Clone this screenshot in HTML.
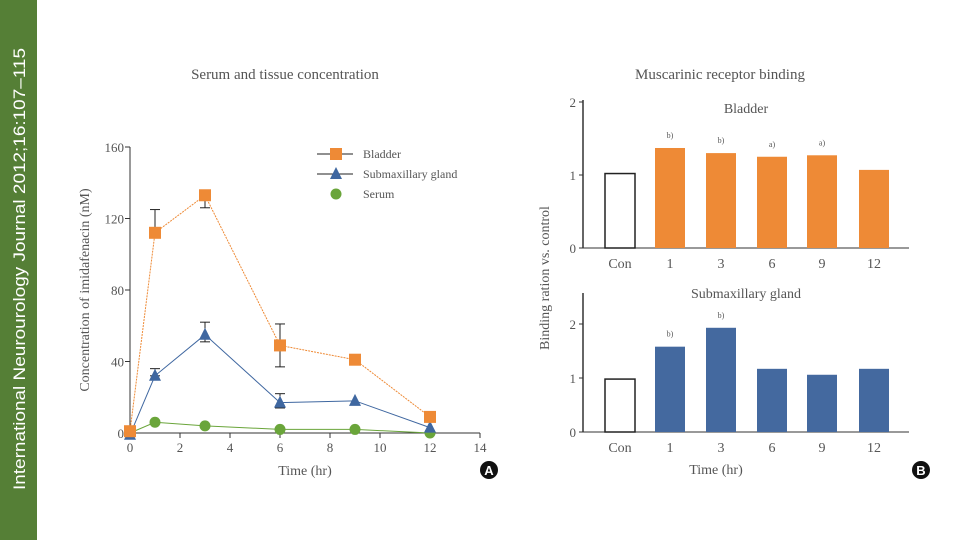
<!DOCTYPE html>
<html><head><meta charset="utf-8"><style>
body{margin:0;width:960px;height:540px;background:#fff;overflow:hidden;font-family:"Liberation Serif",serif}
svg text{font-family:"Liberation Serif",serif;fill:#555}
</style></head><body>
<svg id="s" width="960" height="540" viewBox="0 0 960 540">
<rect x="0" y="0" width="37" height="540" fill="#557f36"/>
<text transform="translate(25,269) rotate(-90)" text-anchor="middle" textLength="442" lengthAdjust="spacingAndGlyphs" style="font-family:'Liberation Sans',sans-serif;fill:#fff;font-size:17px">International Neurourology Journal 2012;16:107–115</text>
<text x="285" y="79" text-anchor="middle" font-size="15">Serum and tissue concentration</text>
<text x="720" y="79" text-anchor="middle" font-size="15">Muscarinic receptor binding</text>
<g id="L"></g>
<g id="R"></g>
<circle cx="489" cy="470" r="9" fill="#111"/>
<text x="489" y="475" text-anchor="middle" style="font-family:'Liberation Sans',sans-serif;fill:#fff;font-size:13px;font-weight:bold">A</text>
<circle cx="921" cy="470" r="9" fill="#111"/>
<text x="921" y="475" text-anchor="middle" style="font-family:'Liberation Sans',sans-serif;fill:#fff;font-size:13px;font-weight:bold">B</text>
</svg>
<script>
const times=[0,1,3,6,9,12];
const bladder=[1,112,133,49,41,9];
const submax=[-1,32,55,17,18,3];
const serum=[0,6,4,2,2,0];
const xTicks=[0,2,4,6,8,10,12,14];
const yTicks=[0,40,80,120,160];
const barCats=["Con","1","3","6","9","12"];
const bladderBind=[1.02,1.37,1.30,1.25,1.27,1.07];
const submaxBind=[0.98,1.58,1.93,1.17,1.06,1.17];
const bladderSig=["","b)","b)","a)","a)",""];
const submaxSig=["","b)","b)","","",""];
const NS="http://www.w3.org/2000/svg";
function mk(p,t,a){const e=document.createElementNS(NS,t);for(const k in a)e.setAttribute(k,a[k]);p.appendChild(e);return e;}
const L=document.getElementById('L'),R=document.getElementById('R');
const X=v=>130+v*25, Y=v=>433-v*1.7875;
let e;
e=mk(L,'line',{x1:130,y1:147,x2:130,y2:433,stroke:'#333'});

e=mk(L,'line',{x1:130,y1:433,x2:480,y2:433,stroke:'#333'});

xTicks.forEach(t=>{mk(L,'line',{x1:X(t),y1:433,x2:X(t),y2:438,stroke:'#333'});
 e=mk(L,'text',{x:X(t),y:452,'text-anchor':'middle','font-size':13});e.textContent=t;
 });
yTicks.forEach(t=>{mk(L,'line',{x1:125,y1:Y(t),x2:130,y2:Y(t),stroke:'#333'});
 e=mk(L,'text',{x:124,y:Y(t)+5,'text-anchor':'end','font-size':13});e.textContent=t;
 });
e=mk(L,'text',{x:305,y:475,'text-anchor':'middle','font-size':14});e.textContent='Time (hr)';

e=mk(L,'text',{transform:'translate(89,290) rotate(-90)','text-anchor':'middle','font-size':14});e.textContent='Concentration of imidafenacin (nM)';

function eb(x,lo,hi){mk(L,'line',{x1:X(x),y1:Y(lo),x2:X(x),y2:Y(hi),stroke:'#222'});
 [lo,hi].forEach(v=>mk(L,'line',{x1:X(x)-5,y1:Y(v),x2:X(x)+5,y2:Y(v),stroke:'#222'}));}
eb(1,112,125);eb(3,126,133);eb(6,37,61);eb(1,32,36);eb(3,51,62);eb(6,14,22);
function series(vals,col,shape,name){
 const pts=times.map((t,i)=>X(t)+','+Y(vals[i])).join(' ');
 e=mk(L,'polyline',{points:pts,fill:'none',stroke:col,'stroke-width':1,'stroke-dasharray':shape==='sq'?'2,1':'none'});
 
 times.forEach((t,i)=>{const x=X(t),y=Y(vals[i]);
  if(shape==='sq')e=mk(L,'rect',{x:x-6,y:y-6,width:12,height:12,fill:col});
  else if(shape==='tri')e=mk(L,'polygon',{points:`${x},${y-7} ${x-6},${y+5} ${x+6},${y+5}`,fill:col});
  else e=mk(L,'circle',{cx:x,cy:y,r:5.5,fill:col});
  });
}
series(serum,'#6aa53a','c','serum');
series(submax,'#3f67a0','tri','submaxillary');
series(bladder,'#ee8a36','sq','bladder');
const lg=[['Bladder','#ee8a36','sq',154],['Submaxillary gland','#3f67a0','tri',174],['Serum','#6aa53a','c',194]];
lg.forEach(([n,c,s,y])=>{
 if(s!=='c')mk(L,'line',{x1:317,y1:y,x2:353,y2:y,stroke:'#222'});
 if(s==='sq')mk(L,'rect',{x:330,y:y-6,width:12,height:12,fill:c});
 else if(s==='tri')mk(L,'polygon',{points:`336,${y-7} 330,${y+5} 342,${y+5}`,fill:c});
 else mk(L,'circle',{cx:336,cy:y,r:5.5,fill:c});
 e=mk(L,'text',{x:363,y:y+4,'font-size':12});e.textContent=n;
 });
const bx=[620,670,721,772,822,874];
function bars(vals,sig,base,unit,top,ticks,col,title,ty,name){
 const Yb=v=>base-v*unit;
 mk(R,'line',{x1:583,y1:top,x2:583,y2:base,stroke:'#333','stroke-width':1.5});
 mk(R,'line',{x1:583,y1:base,x2:909,y2:base,stroke:'#333'});
 ticks.forEach(t=>{mk(R,'line',{x1:579,y1:Yb(t),x2:583,y2:Yb(t),stroke:'#333'});
  e=mk(R,'text',{x:576,y:Yb(t)+5,'text-anchor':'end','font-size':13});e.textContent=t;
  });
 e=mk(R,'text',{x:746,y:ty,'text-anchor':'middle','font-size':14});e.textContent=title;
 
 vals.forEach((v,i)=>{const c=i===0;
  e=mk(R,'rect',{x:bx[i]-15,y:Yb(v),width:30,height:v*unit,fill:c?'#fff':col,stroke:c?'#222':'none','stroke-width':1.5});
  
  e=mk(R,'text',{x:bx[i],y:base+20,'text-anchor':'middle','font-size':14});e.textContent=barCats[i];
  
  if(sig[i]){e=mk(R,'text',{x:bx[i],y:Yb(v)-10,'text-anchor':'middle','font-size':8});e.textContent=sig[i];
   }
 });
}
bars(bladderBind,bladderSig,248,73,100,[0,1,2],'#ee8a36','Bladder',113,'bladder');
bars(submaxBind,submaxSig,432,54,293,[0,1,2],'#44699f','Submaxillary gland',298,'submax');
e=mk(R,'text',{x:716,y:474,'text-anchor':'middle','font-size':14});e.textContent='Time (hr)';

e=mk(R,'text',{transform:'translate(549,278) rotate(-90)','text-anchor':'middle','font-size':14});e.textContent='Binding ration vs. control';

</script>
</body></html>
